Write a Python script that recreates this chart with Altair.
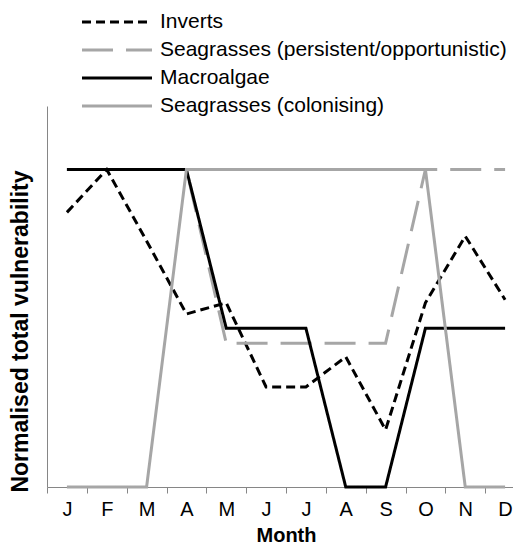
import json
import altair as alt
import pandas as pd

# ---- data ----
months = ["Jan", "Feb", "Mar", "Apr", "May", "Jun", "Jul", "Aug", "Sep", "Oct", "Nov", "Dec"]
month_labels = ["J", "F", "M", "A", "M", "J", "J", "A", "S", "O", "N", "D"]

series_names = [
    "Inverts",
    "Seagrasses (persistent/opportunistic)",
    "Macroalgae",
    "Seagrasses (colonising)",
]
inverts = [0.865, 1.0, 0.775, 0.545, 0.58, 0.315, 0.315, 0.41, 0.18, 0.58, 0.79, 0.59]
seagrass_persistent = [1.0, 1.0, 1.0, 1.0, 0.453, 0.453, 0.453, 0.453, 0.453, 1.0, 1.0, 1.0]
macroalgae = [1.0, 1.0, 1.0, 1.0, 0.5, 0.5, 0.5, 0.0, 0.0, 0.5, 0.5, 0.5]
seagrass_colonising = [0.0, 0.0, 0.0, 1.0, 1.0, 1.0, 1.0, 1.0, 1.0, 1.0, 0.0, 0.0]

series_values = [inverts, seagrass_persistent, macroalgae, seagrass_colonising]
series_colors = ["#000000", "#a6a6a6", "#000000", "#a6a6a6"]
series_dashes = [[9, 5], [31, 13], [1, 0], [1, 0]]

rows = []
for name, vals in zip(series_names, series_values):
    for m, v in zip(months, vals):
        rows.append({"series": name, "month": m, "value": v})
df = pd.DataFrame(rows)

FONT = "Liberation Sans"
GREY_AXIS = "#868686"

label_expr = f"{json.dumps(month_labels)}[indexof({json.dumps(months)}, datum.value)]"

legend_kw = dict(
    title=None,
    orient="none",
    legendX=58.5,
    legendY=-95.5,
    symbolType="M-3.5,0H3.5",
    symbolSize=400,
    symbolStrokeWidth=3,
    labelFont=FONT,
    labelFontSize=21,
    labelColor="black",
    labelOffset=31.5,
    labelLimit=500,
    rowPadding=6,
    padding=0,
)

x_enc = alt.X(
    "month:O",
    sort=months,
    bandPosition=0.5,
    scale=alt.Scale(type="band", domain=months, range=[0, 478], paddingInner=0, paddingOuter=0),
    axis=alt.Axis(
        title="Month",
        labelExpr=label_expr,
        labelAngle=0,
        tickBand="extent",
        tickSize=6,
        tickColor=GREY_AXIS,
        tickWidth=1,
        domainColor=GREY_AXIS,
        domainWidth=1,
        grid=False,
        labelFont=FONT,
        labelFontSize=20,
        labelColor="black",
        labelBaseline="alphabetic",
        labelPadding=22,
        titleFont=FONT,
        titleFontSize=20,
        titleFontWeight="bold",
        titleColor="black",
        titleBaseline="alphabetic",
        titleY=54,
    ),
)

y_enc = alt.Y(
    "value:Q",
    scale=alt.Scale(domain=[0, 1.2], nice=False, zero=False),
    axis=alt.Axis(
        title="Normalised total vulnerability",
        labels=False,
        ticks=False,
        grid=False,
        domainColor=GREY_AXIS,
        domainWidth=1,
        titleFont=FONT,
        titleFontSize=23,
        titleFontWeight="bold",
        titleColor="black",
        titleAngle=270,
        titleAlign="center",
        titleBaseline="alphabetic",
        titleX=-20,
        titleY=225,
    ),
)

color_enc = alt.Color(
    "series:N",
    scale=alt.Scale(domain=series_names, range=series_colors),
    legend=alt.Legend(**legend_kw),
)
dash_enc = alt.StrokeDash(
    "series:N",
    scale=alt.Scale(domain=series_names, range=series_dashes),
    legend=alt.Legend(**legend_kw),
)

base = alt.Chart(df).mark_line(strokeWidth=3).encode(
    x=x_enc, y=y_enc, color=color_enc, strokeDash=dash_enc
)

layers = [base.transform_filter(alt.datum.series == name) for name in series_names]

chart = (
    alt.layer(*layers)
    .properties(
        width=466,
        height=381,
        autosize=alt.AutoSizeParams(type="none"),
        padding={"left": 39, "top": 98, "right": 0, "bottom": 58},
        background="white",
    )
    .configure_view(stroke=None)
)

chart.save("out.html", embed_options={"renderer": "svg", "actions": False})
